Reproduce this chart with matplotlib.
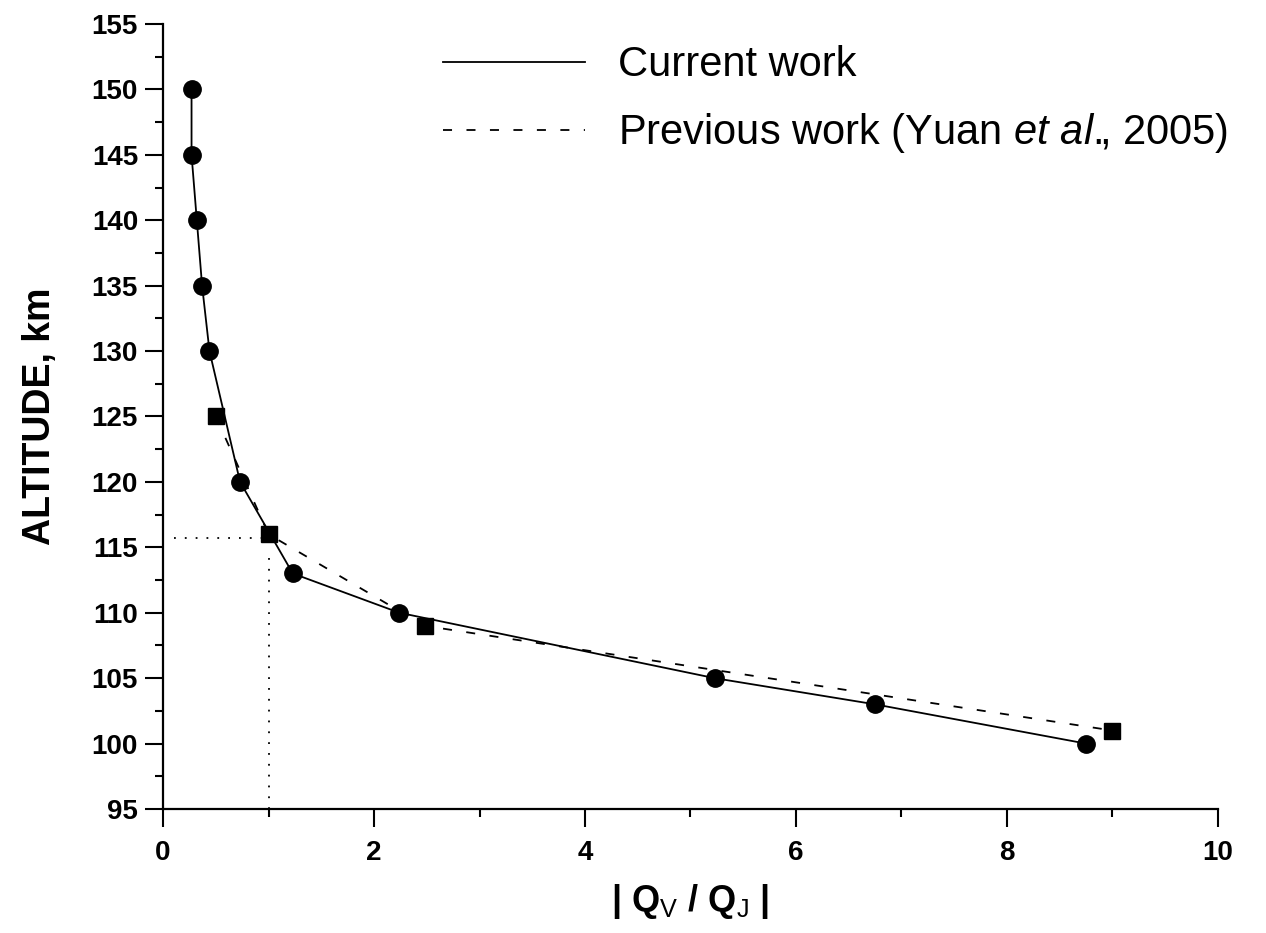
import matplotlib.pyplot as plt
from matplotlib.lines import Line2D

plt.rcParams["font.family"] = ["Liberation Sans", "DejaVu Sans"]
plt.rcParams["mathtext.fontset"] = "custom"
plt.rcParams["mathtext.rm"] = "Liberation Sans"
plt.rcParams["mathtext.it"] = "Liberation Sans:italic"
plt.rcParams["mathtext.bf"] = "Liberation Sans:bold"

# data
current_q = [0.27, 0.27, 0.32, 0.37, 0.44, 0.73, 1.23, 2.24, 5.23, 6.75, 8.75]
current_alt = [150, 145, 140, 135, 130, 120, 113, 110, 105, 103, 100]

previous_q = [0.50, 1.0, 2.48, 9.0]
previous_alt = [125, 116, 109, 101]

cross_q = 1.0
cross_alt = 115.7

x_ticks = [0, 2, 4, 6, 8, 10]
y_ticks = [95, 100, 105, 110, 115, 120, 125, 130, 135, 140, 145, 150, 155]

DASH = (0, (5, 8))


def main():
    fig = plt.figure(figsize=(12.66, 9.33), dpi=100)
    ax = fig.add_axes([0.1288, 0.1329, 0.8332, 0.8414])
    fig.patch.set_facecolor("white")

    # curves
    ax.plot(current_q, current_alt, color="black", lw=1.3, ls="-",
            marker="o", ms=12.5, mfc="black", mec="black", clip_on=False)
    ax.plot(previous_q, previous_alt, color="black", lw=1.3, ls=DASH,
            marker="s", ms=11, mfc="black", mec="black", clip_on=False)

    # dotted guide lines at |Qv/Qj| = 1
    ax.plot([0.1, cross_q], [cross_alt, cross_alt], color="black", lw=1.3, ls=(0, (1, 5)))
    ax.plot([cross_q, cross_q], [95, cross_alt - 1.5], color="black", lw=1.3, ls=(0, (1, 5)))

    ax.set_xlim(0, 10)
    ax.set_ylim(95, 155)
    ax.set_xticks(x_ticks)
    ax.set_xticks([1, 3, 5, 7, 9], minor=True)
    ax.set_yticks(y_ticks)
    ax.set_yticks([y + 2.5 for y in y_ticks[:-1]], minor=True)

    for s in ["top", "right"]:
        ax.spines[s].set_visible(False)
    for s in ["left", "bottom"]:
        ax.spines[s].set_linewidth(1.6)

    ax.tick_params(axis="both", which="major", direction="out", length=13, width=1.5)
    ax.tick_params(axis="both", which="minor", direction="out", length=6, width=1.5)
    ax.tick_params(axis="x", which="major", labelsize=20, pad=9)
    ax.tick_params(axis="y", which="major", labelsize=20, pad=5)
    for t in ax.get_xticklabels() + ax.get_yticklabels():
        t.set_fontweight("bold")

    ax.set_ylabel("ALTITUDE, km", fontsize=27, fontweight="bold", labelpad=24)
    ax.set_xlabel(r"| Q$_{\mathrm{V}}$ / Q$_{\mathrm{J}}$ |", fontsize=26,
                  fontweight="bold", labelpad=12)

    handles = [
        Line2D([], [], color="black", lw=1.3, ls="-"),
        Line2D([], [], color="black", lw=1.3, ls=DASH),
    ]
    labels = ["Current work", r"Previous work (Yuan $\mathit{et\ al.}\!\!$, 2005)"]
    ax.legend(handles, labels, loc="upper left", bbox_to_anchor=(0.238, 1.01),
              frameon=False, fontsize=30, handlelength=3.4, handletextpad=0.8,
              labelspacing=0.62, borderpad=0.2)

    fig.savefig("out.png", dpi=100, facecolor="white")


if __name__ == "__main__":
    main()
